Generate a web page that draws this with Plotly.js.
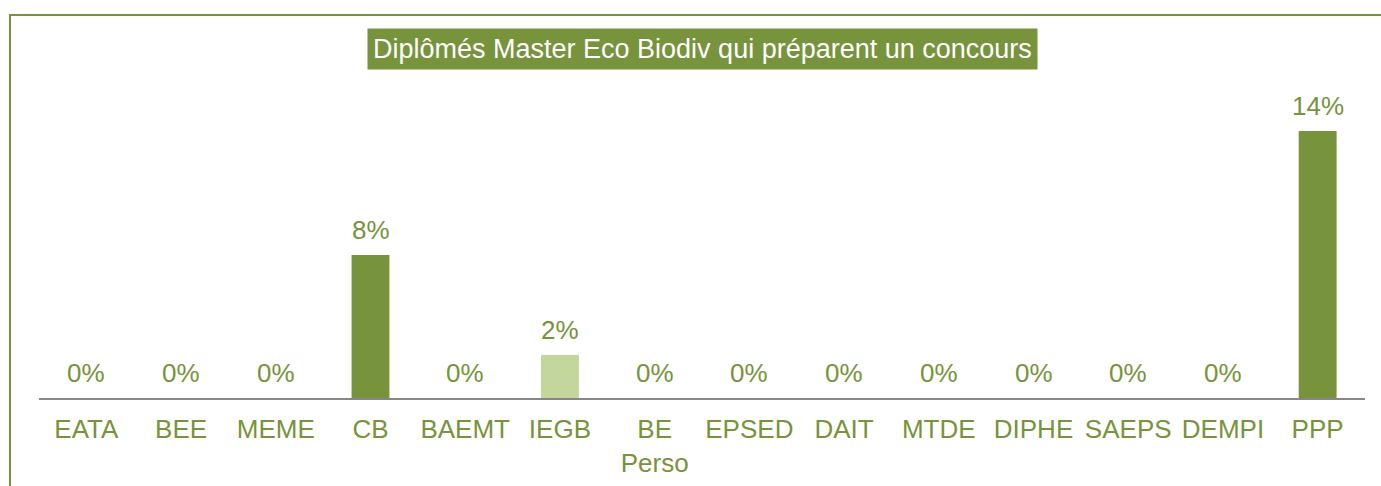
<!DOCTYPE html>
<html>
<head>
<meta charset="utf-8">
<script src="https://cdn.plot.ly/plotly-3.0.1.min.js"></script>
<style>
  html, body { margin: 0; padding: 0; background: #fff; overflow: hidden; }
  #frame {
    position: absolute; left: 9px; top: 14px; width: 2000px; height: 2000px;
    border-left: 2px solid #77933C; border-top: 2px solid #77933C;
  }
  #chart { position: absolute; left: 0; top: 0; width: 1381px; height: 486px; }
</style>
</head>
<body>
<div id="frame"></div>
<div id="chart"></div>
<script>
// Données
const categories = ['EATA', 'BEE', 'MEME', 'CB', 'BAEMT', 'IEGB', 'BE<br>Perso',
  'EPSED', 'DAIT', 'MTDE', 'DIPHE', 'SAEPS', 'DEMPI', 'PPP'];
const shares = [0, 0, 0, 0.0771, 0, 0.0232, 0, 0, 0, 0, 0, 0, 0, 0.144];
const barColors = ['#77933C', '#77933C', '#77933C', '#77933C', '#77933C', '#C3D69B', '#77933C',
  '#77933C', '#77933C', '#77933C', '#77933C', '#77933C', '#77933C', '#77933C'];
const chartTitle = 'Diplômés Master Eco Biodiv qui préparent un concours';

const GREEN = '#77933C';
const FONT = 'Liberation Sans, Arial, sans-serif';

const trace = {
  type: 'bar',
  x: categories,
  y: shares,
  marker: { color: barColors, line: { width: 0 } },
  hoverinfo: 'skip'
};

// étiquettes de valeurs au-dessus des barres
const valueLabels = categories.map((c, i) => ({
  x: c,
  y: shares[i],
  xref: 'x',
  yref: 'y',
  text: Math.round(shares[i] * 100) + '%',
  showarrow: false,
  yanchor: 'bottom',
  yshift: 8,
  font: { family: FONT, size: 26, color: GREEN }
}));

const layout = {
  width: 1381,
  height: 486,
  paper_bgcolor: 'rgba(0,0,0,0)',
  plot_bgcolor: 'rgba(0,0,0,0)',
  margin: { l: 39, r: 16, t: 100, b: 88 },
  bargap: 0.6,
  showlegend: false,
  font: { family: FONT, size: 26, color: GREEN },
  xaxis: {
    showline: true,
    linecolor: '#878787',
    linewidth: 2,
    showgrid: false,
    zeroline: false,
    ticks: '',
    ticklabelstandoff: 7,
    tickfont: { family: FONT, size: 26, color: GREEN },
    fixedrange: true
  },
  yaxis: {
    visible: false,
    range: [0, 0.1607],
    fixedrange: true
  },
  annotations: [
    {
      text: chartTitle,
      xref: 'paper', yref: 'paper',
      x: 0.5, y: 1, yanchor: 'bottom', yshift: 30,
      showarrow: false,
      bgcolor: GREEN,
      borderpad: 5,
      font: { family: FONT, size: 27, color: '#FFFFFF' }
    },
    ...valueLabels
  ]
};

Plotly.newPlot('chart', [trace], layout, { displayModeBar: false, staticPlot: true });
</script>
</body>
</html>
